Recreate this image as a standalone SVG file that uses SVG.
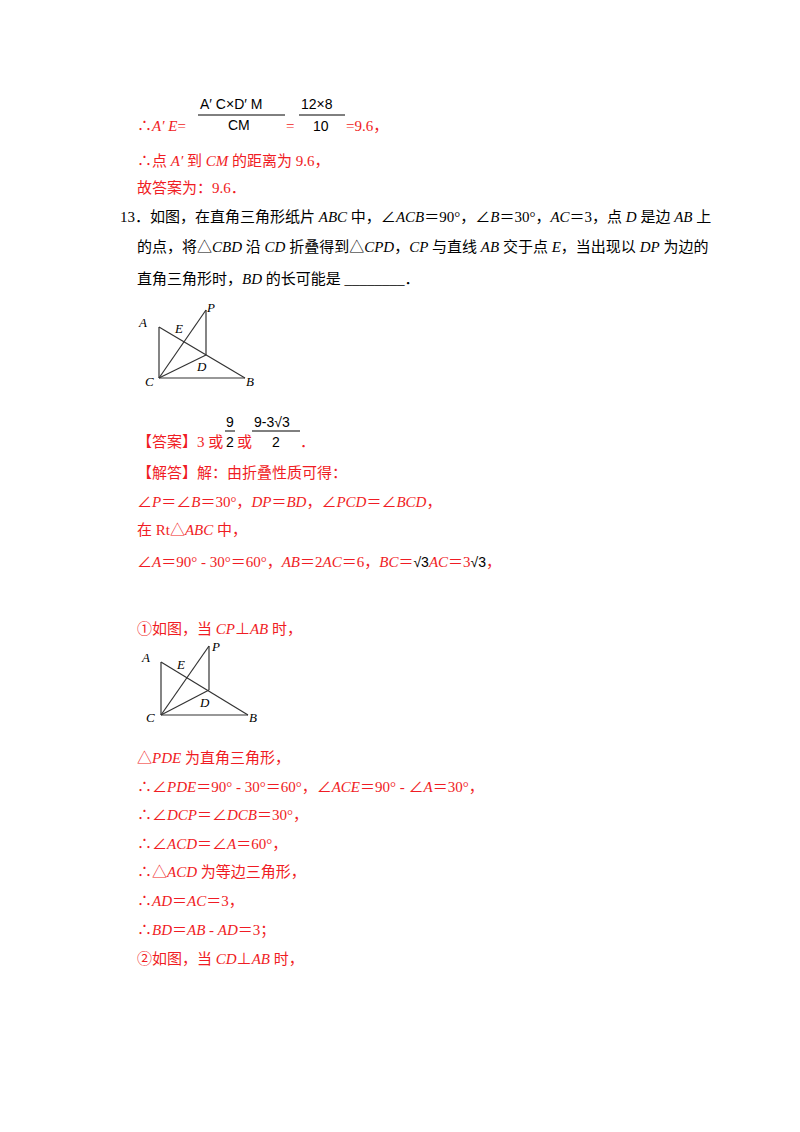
<svg xmlns="http://www.w3.org/2000/svg" width="800" height="1132" viewBox="0 0 800 1132">
<style>
.r{fill:#f01c24;font-family:"Liberation Serif","Noto Sans CJK SC",serif;font-size:15px}
.k{fill:#000;font-family:"Liberation Serif","Noto Sans CJK SC",serif;font-size:15px}
.m{fill:#000;font-family:"Liberation Sans",sans-serif;font-size:14px}
.i{font-style:italic}
.g line{stroke:#333;stroke-width:1.2}
.lb{font-family:"Liberation Serif",serif;font-style:italic;font-size:13px;fill:#000}
</style>
<rect width="800" height="1132" fill="#fff"/>
<g id="formula1">
<text class="m" x="200" y="109" font-size="12">A′ C×D′ M</text>
<line x1="198" y1="115" x2="285" y2="115" stroke="#000"/>
<text class="m" x="228" y="130" font-size="12">CM</text>
<text class="m" x="301" y="109">12×8</text>
<line x1="299" y1="115" x2="345" y2="115" stroke="#000"/>
<text class="m" x="313" y="131">10</text>
<text class="r" x="137" y="131">∴<tspan class="i">A′ E</tspan>=</text>
<text class="r" x="286" y="131">=</text>
<text class="r" x="346" y="131">=9.6，</text>
</g>
<text class="r" x="137" y="166">∴点 <tspan class="i">A′</tspan> 到 <tspan class="i">CM</tspan> 的距离为 9.6，</text>
<text class="r" x="137" y="193">故答案为：9.6．</text>
<text class="k" x="120" y="222">13．如图，在直角三角形纸片 <tspan class="i">ABC</tspan> 中，∠<tspan class="i">ACB</tspan>＝90°，∠<tspan class="i">B</tspan>＝30°，<tspan class="i">AC</tspan>＝3，点 <tspan class="i">D</tspan> 是边 <tspan class="i">AB</tspan> 上</text>
<text class="k" x="137" y="252">的点，将△<tspan class="i">CBD</tspan> 沿 <tspan class="i">CD</tspan> 折叠得到△<tspan class="i">CPD</tspan>，<tspan class="i">CP</tspan> 与直线 <tspan class="i">AB</tspan> 交于点 <tspan class="i">E</tspan>，当出现以 <tspan class="i">DP</tspan> 为边的</text>
<text class="k" x="137" y="284">直角三角形时，<tspan class="i">BD</tspan> 的长可能是 ________．</text>
<g id="fig1" class="g">
<line x1="159" y1="327" x2="159" y2="378"/><line x1="159" y1="378" x2="245" y2="378"/>
<line x1="159" y1="327" x2="245" y2="378"/><line x1="159" y1="378" x2="206" y2="310"/>
<line x1="206" y1="310" x2="206" y2="355"/><line x1="159" y1="378" x2="206" y2="355"/>
<text class="lb" x="139" y="327">A</text><text class="lb" x="175" y="333">E</text>
<text class="lb" x="207" y="312">P</text><text class="lb" x="197" y="371">D</text>
<text class="lb" x="145" y="386">C</text><text class="lb" x="246" y="386">B</text>
</g>
<g id="answer">
<text class="r" x="137" y="447">【答案】3 或</text>
<text class="m" x="226" y="427">9</text><line x1="225" y1="431" x2="235" y2="431" stroke="#000"/>
<text class="m" x="226" y="447">2</text>
<text class="r" x="237" y="447">或</text>
<text class="m" x="254" y="427">9-3√3</text><line x1="252" y1="431" x2="300" y2="431" stroke="#000"/>
<text class="m" x="272" y="447">2</text>
<text class="r" x="300" y="447">．</text>
</g>
<text class="r" x="137" y="478">【解答】解：由折叠性质可得：</text>
<text class="r" x="137" y="507">∠<tspan class="i">P</tspan>＝∠<tspan class="i">B</tspan>＝30°，<tspan class="i">DP</tspan>＝<tspan class="i">BD</tspan>，∠<tspan class="i">PCD</tspan>＝∠<tspan class="i">BCD</tspan>，</text>
<text class="r" x="137" y="535">在 Rt△<tspan class="i">ABC</tspan> 中，</text>
<text class="r" x="137" y="567">∠<tspan class="i">A</tspan>＝90° - 30°＝60°，<tspan class="i">AB</tspan>＝2<tspan class="i">AC</tspan>＝6，<tspan class="i">BC</tspan>＝<tspan class="m" font-size="17">√3</tspan><tspan class="i">AC</tspan>＝3<tspan class="m" font-size="17">√3</tspan>，</text>
<text class="r" x="137" y="634">①如图，当 <tspan class="i">CP</tspan>⊥<tspan class="i">AB</tspan> 时，</text>
<g id="fig2" class="g">
<line x1="161" y1="662" x2="161" y2="715"/><line x1="161" y1="715" x2="248" y2="715"/>
<line x1="161" y1="662" x2="248" y2="715"/><line x1="161" y1="715" x2="209" y2="646"/>
<line x1="209" y1="646" x2="209" y2="690"/><line x1="161" y1="715" x2="209" y2="690"/>
<text class="lb" x="142" y="662">A</text><text class="lb" x="177" y="669">E</text>
<text class="lb" x="212" y="651">P</text><text class="lb" x="200" y="707">D</text>
<text class="lb" x="146" y="722">C</text><text class="lb" x="249" y="722">B</text>
</g>
<text class="r" x="137" y="763">△<tspan class="i">PDE</tspan> 为直角三角形，</text>
<text class="r" x="137" y="792">∴∠<tspan class="i">PDE</tspan>＝90° - 30°＝60°，∠<tspan class="i">ACE</tspan>＝90° - ∠<tspan class="i">A</tspan>＝30°，</text>
<text class="r" x="137" y="820">∴∠<tspan class="i">DCP</tspan>＝∠<tspan class="i">DCB</tspan>＝30°，</text>
<text class="r" x="137" y="849">∴∠<tspan class="i">ACD</tspan>＝∠<tspan class="i">A</tspan>＝60°，</text>
<text class="r" x="137" y="877">∴△<tspan class="i">ACD</tspan> 为等边三角形，</text>
<text class="r" x="137" y="906">∴<tspan class="i">AD</tspan>＝<tspan class="i">AC</tspan>＝3，</text>
<text class="r" x="137" y="935">∴<tspan class="i">BD</tspan>＝<tspan class="i">AB</tspan> - <tspan class="i">AD</tspan>＝3；</text>
<text class="r" x="137" y="964">②如图，当 <tspan class="i">CD</tspan>⊥<tspan class="i">AB</tspan> 时，</text>
</svg>
